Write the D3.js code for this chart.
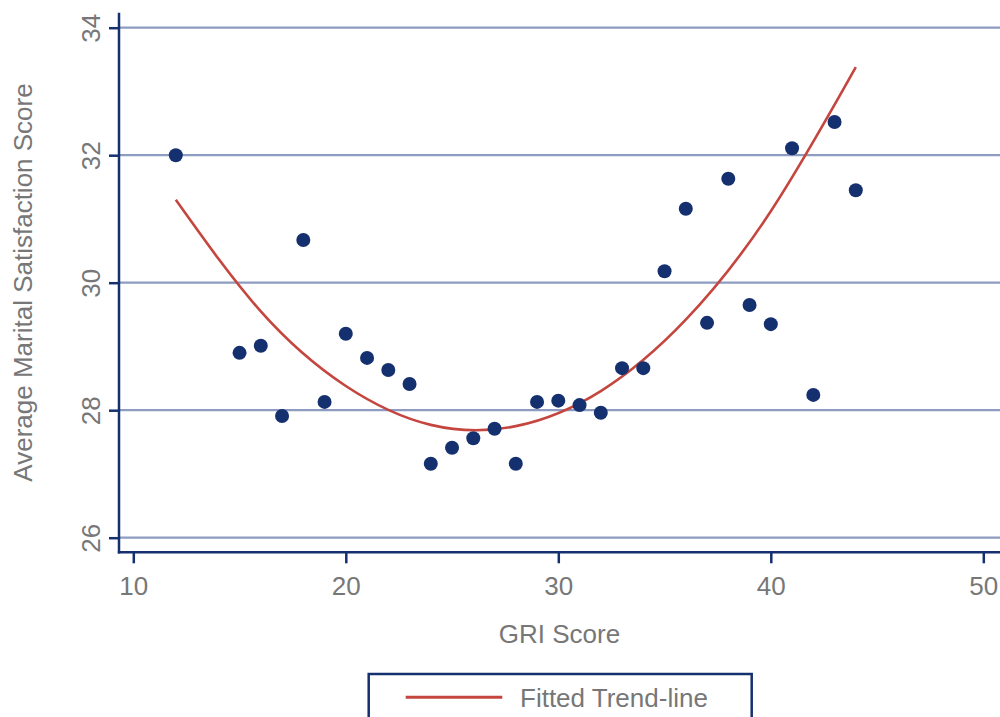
<!DOCTYPE html>
<html>
<head>
<meta charset="utf-8">
<script src="https://cdn.jsdelivr.net/npm/d3@7"></script>
<style>
  html, body { margin: 0; padding: 0; background: #fff; }
  svg { display: block; }
  text { font-family: "Liberation Sans", Arial, sans-serif; fill: #777; }
</style>
</head>
<body>
<svg id="chart" width="1000" height="717"></svg>
<script>
// ---- Data ----
const griScores = [12, 15, 16, 17, 18, 19, 20, 21, 22, 23, 24, 25, 26, 27, 28, 29, 30, 31, 32, 33, 34, 35, 36, 37, 38, 39, 40, 41, 42, 43, 44];
const satisfaction = [32.00, 28.90, 29.01, 27.91, 30.67, 28.13, 29.20, 28.82, 28.63, 28.41, 27.16, 27.41, 27.56, 27.71, 27.16, 28.13, 28.15, 28.08, 27.96, 28.66, 28.66, 30.18, 31.16, 29.37, 31.63, 29.65, 29.35, 32.11, 28.24, 32.52, 31.45];
// fitted trend-line
const trendX = [12, 16, 20, 24, 28, 32, 36, 40, 44];
const trendY = [31.30, 29.55, 28.38, 27.77, 27.75, 28.30, 29.42, 31.12, 33.38];
const xTicks = [10, 20, 30, 40, 50];
const yTicks = [26, 28, 30, 32, 34];
const xTitle = "GRI Score";
const yTitle = "Average Marital Satisfaction Score";
const legendLabel = "Fitted Trend-line";

// ---- Layout ----
const svg = d3.select("#chart");
const navy = "#15306e";
const gridColor = "#8d9cc0";
const red = "#c4463f";
const plotLeft = 119, plotRight = 1000, plotTop = 12.7, plotBottom = 552.3;

const x = d3.scaleLinear().domain([10, 50]).range([133.3, 983.3]);
const y = d3.scaleLinear().domain([26, 34]).range([537.7, 27.7]);

// gridlines
svg.append("g").selectAll("line").data(yTicks).join("line")
  .attr("x1", plotLeft).attr("x2", plotRight)
  .attr("y1", d => y(d)).attr("y2", d => y(d))
  .attr("stroke", gridColor).attr("stroke-width", 2.2);

// x axis
const xAxis = svg.append("g").attr("transform", `translate(0,${plotBottom})`)
  .call(d3.axisBottom(x).tickValues(xTicks).tickSize(11).tickPadding(10).tickFormat(d3.format("d")));
xAxis.select(".domain").remove();
xAxis.selectAll(".tick line").attr("stroke", navy).attr("stroke-width", 2.5);
xAxis.selectAll(".tick text").attr("font-size", 26).attr("fill", "#777")
  .attr("font-family", "Liberation Sans, Arial, sans-serif").attr("dy", "0.85em");

// y axis
const yAxis = svg.append("g").attr("transform", `translate(${plotLeft},0)`)
  .call(d3.axisLeft(y).tickValues(yTicks).tickSize(10).tickFormat(d3.format("d")));
yAxis.select(".domain").remove();
yAxis.selectAll(".tick line").attr("stroke", navy).attr("stroke-width", 2.5);
yAxis.selectAll(".tick text")
  .attr("font-size", 26).attr("fill", "#777")
  .attr("font-family", "Liberation Sans, Arial, sans-serif")
  .attr("x", 0).attr("dy", 0)
  .attr("text-anchor", "middle")
  .attr("transform", "translate(-19,0) rotate(-90)");

// axis lines
svg.append("line").attr("x1", plotLeft).attr("x2", plotLeft).attr("y1", plotTop).attr("y2", plotBottom + 1.2)
  .attr("stroke", navy).attr("stroke-width", 2.5);
svg.append("line").attr("x1", plotLeft - 1.2).attr("x2", plotRight).attr("y1", plotBottom).attr("y2", plotBottom)
  .attr("stroke", navy).attr("stroke-width", 2.5);

// trend line
svg.append("path")
  .datum(trendX.map((d, i) => [d, trendY[i]]))
  .attr("fill", "none").attr("stroke", red).attr("stroke-width", 2.6)
  .attr("d", d3.line().x(d => x(d[0])).y(d => y(d[1])).curve(d3.curveNatural));

// points
svg.append("g").selectAll("circle").data(griScores).join("circle")
  .attr("cx", d => x(d)).attr("cy", (d, i) => y(satisfaction[i]))
  .attr("r", 7).attr("fill", navy);

// titles
svg.append("text").attr("x", (plotLeft + plotRight) / 2).attr("y", 643)
  .attr("text-anchor", "middle").attr("font-size", 26).text(xTitle);
svg.append("text").attr("transform", `translate(32,${(plotTop + plotBottom) / 2}) rotate(-90)`)
  .attr("text-anchor", "middle").attr("font-size", 26).text(yTitle);

// legend
const lg = svg.append("g");
lg.append("rect").attr("x", 368.7).attr("y", 674).attr("width", 383).attr("height", 70)
  .attr("fill", "#fff").attr("stroke", navy).attr("stroke-width", 2.5);
lg.append("line").attr("x1", 405.7).attr("x2", 502.3).attr("y1", 697.3).attr("y2", 697.3)
  .attr("stroke", red).attr("stroke-width", 3);
lg.append("text").attr("x", 520).attr("y", 706.5).attr("font-size", 26).text(legendLabel);
</script>
</body>
</html>
